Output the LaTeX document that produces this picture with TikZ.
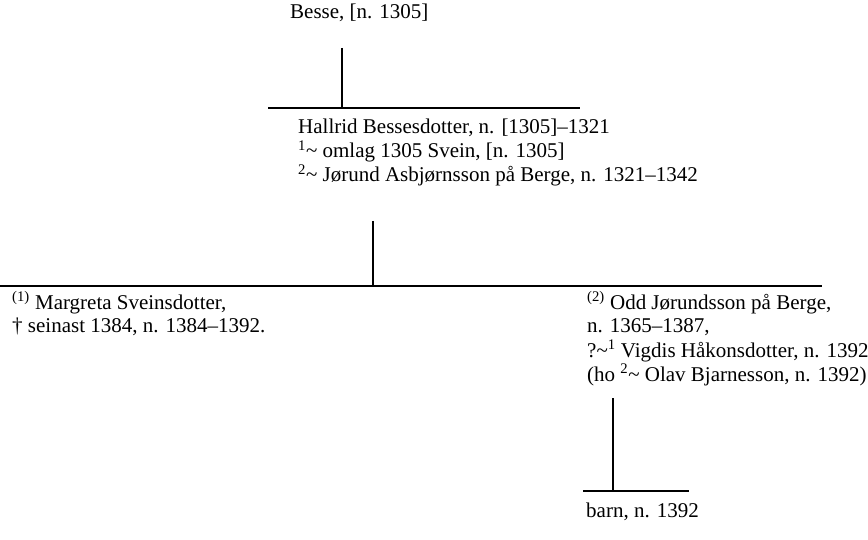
\documentclass[tikz,border=0pt]{standalone}
\usepackage{fontspec}
\setmainfont{Liberation Serif}
\begin{document}
\begin{tikzpicture}[x=1pt,y=-1pt,
  txt/.style={anchor=base west,inner sep=0pt,font=\fontsize{21}{24}\selectfont},
  bar/.style={line width=1.7pt}]
\useasboundingbox (0,0) rectangle (868,540);
% generation 1
\node[txt] (besse) at (290,19) {Besse, [n. 1305]};
\coordinate (b1top) at (342,48);
\coordinate (bar1L) at (268,108);
\coordinate (bar1R) at (580,108);
\draw[bar] (bar1L) -- (bar1R);
\draw[bar] (b1top) -- (b1top |- bar1L);
% generation 2
\node[txt] (hal1) at (298,134) {Hallrid Bessesdotter, n. [1305]–1321};
\node[txt] (hal2) at (298,158) {\textsuperscript{1}\textasciitilde\ omlag 1305 Svein, [n. 1305]};
\node[txt] (hal3) at (298,182) {\textsuperscript{2}\textasciitilde\ Jørund Asbjørnsson på Berge, n. 1321–1342};
\coordinate (b2top) at (373,221);
\coordinate (bar2L) at (0,286);
\coordinate (bar2R) at (822,286);
\draw[bar] (bar2L) -- (bar2R);
\draw[bar] (b2top) -- (b2top |- bar2L);
% generation 3
\node[txt] (mar1) at (12,309) {\textsuperscript{(1)} Margreta Sveinsdotter,};
\node[txt] (mar2) at (12,333) {† seinast 1384, n. 1384–1392.};
\node[txt] (odd1) at (587,309) {\textsuperscript{(2)} Odd Jørundsson på Berge,};
\node[txt] (odd2) at (587,333) {n. 1365–1387,};
\node[txt] (odd3) at (587,357) {?\textasciitilde\textsuperscript{1} Vigdis Håkonsdotter, n. 1392};
\node[txt] (odd4) at (587,381) {(ho \textsuperscript{2}\textasciitilde\ Olav Bjarnesson, n. 1392)};
\coordinate (b3top) at (613,398);
\coordinate (bar3L) at (583,491);
\coordinate (bar3R) at (689,491);
\draw[bar] (bar3L) -- (bar3R);
\draw[bar] (b3top) -- (b3top |- bar3L);
% generation 4
\node[txt] (barn) at (586,517) {barn, n. 1392};
\end{tikzpicture}
\end{document}
